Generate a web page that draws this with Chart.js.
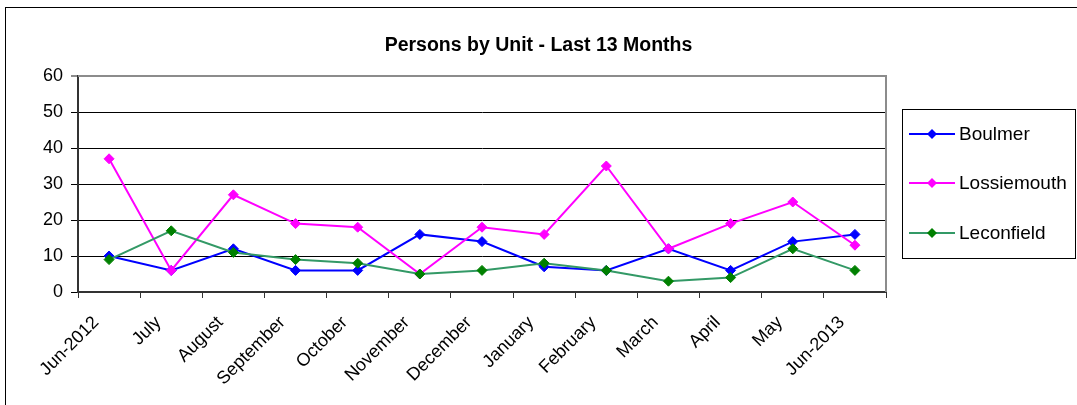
<!DOCTYPE html>
<html>
<head>
<meta charset="utf-8">
<title>Persons by Unit - Last 13 Months</title>
<script src="https://cdn.jsdelivr.net/npm/chart.js@4/dist/chart.umd.min.js"></script>
<style>
  html, body { margin: 0; padding: 0; background: #fff; }
  canvas { display: block; }
</style>
</head>
<body>
<canvas id="grafica" width="1077" height="405"></canvas>
<script>
// datos
const meses = ['Jun-2012', 'July', 'August', 'September', 'October', 'November',
  'December', 'January', 'February', 'March', 'April', 'May', 'Jun-2013'];
const boulmer = [10, 6, 12, 6, 6, 16, 14, 7, 6, 12, 6, 14, 16];
const lossiemouth = [37, 6, 27, 19, 18, 5, 18, 16, 35, 12, 19, 25, 13];
const leconfield = [9, 17, 11, 9, 8, 5, 6, 8, 6, 3, 4, 12, 6];
const ticksY = [0, 10, 20, 30, 40, 50, 60];

const fuente = '"Liberation Sans", Arial, sans-serif';

// marco exterior, borde gris del area y leyenda con recuadro
const marcoYLeyenda = {
  id: 'marcoYLeyenda',
  afterDraw(chart) {
    const ctx = chart.ctx;
    const a = chart.chartArea;
    ctx.save();
    ctx.strokeStyle = '#000';
    ctx.lineWidth = 1;
    ctx.strokeRect(5.5, 7.5, 1200, 600);

    ctx.strokeStyle = '#8c8c8c';
    ctx.lineWidth = 2;
    ctx.beginPath();
    ctx.moveTo(a.left, a.top);
    ctx.lineTo(a.right, a.top);
    ctx.lineTo(a.right, a.bottom);
    ctx.stroke();

    // leyenda
    ctx.strokeStyle = '#000';
    ctx.lineWidth = 1;
    ctx.strokeRect(902.5, 109.5, 173, 149);
    const filas = [134, 183, 233];
    chart.data.datasets.forEach((ds, i) => {
      const y = filas[i];
      ctx.strokeStyle = ds.borderColor;
      ctx.lineWidth = 2;
      ctx.beginPath();
      ctx.moveTo(909, y);
      ctx.lineTo(955, y);
      ctx.stroke();
      ctx.fillStyle = ds.pointBackgroundColor;
      ctx.beginPath();
      ctx.moveTo(932, y - 5);
      ctx.lineTo(937, y);
      ctx.lineTo(932, y + 5);
      ctx.lineTo(927, y);
      ctx.closePath();
      ctx.fill();
      ctx.fillStyle = '#000';
      ctx.font = '19px ' + fuente;
      ctx.textBaseline = 'middle';
      ctx.textAlign = 'left';
      ctx.fillText(ds.label, 959, y + 1);
    });
    ctx.restore();
  }
};

function serie(label, datos, linea, punto, orden) {
  return {
    label: label,
    data: datos,
    borderColor: linea,
    backgroundColor: punto,
    borderWidth: 2,
    pointStyle: 'rectRot',
    pointRadius: 5,
    pointBorderWidth: 1,
    pointBackgroundColor: punto,
    pointBorderColor: punto,
    tension: 0,
    order: orden
  };
}

new Chart(document.getElementById('grafica'), {
  type: 'line',
  data: {
    labels: meses,
    datasets: [
      serie('Boulmer', boulmer, '#0000ff', '#0000ff', 2),
      serie('Lossiemouth', lossiemouth, '#ff00ff', '#ff00ff', 1),
      serie('Leconfield', leconfield, '#339966', '#008000', 0)
    ]
  },
  options: {
    responsive: false,
    animation: false,
    layout: { padding: 0 },
    plugins: {
      legend: { display: false },
      tooltip: { enabled: false },
      title: {
        display: true,
        text: 'Persons by Unit - Last 13 Months',
        color: '#000',
        font: { family: fuente, size: 19.5, weight: 'bold' },
        padding: { top: 34, bottom: 18.6 }
      }
    },
    scales: {
      x: {
        offset: true,
        grid: {
          offset: true,
          drawOnChartArea: false,
          drawTicks: true,
          tickLength: 6,
          color: '#333',
          lineWidth: 1
        },
        border: { color: '#333', width: 2 },
        ticks: {
          color: '#000',
          font: { family: fuente, size: 18 },
          minRotation: 45,
          maxRotation: 45,
          autoSkip: false,
          labelOffset: -13,
          padding: 14
        },
        afterFit(scale) { scale.height = 113; }
      },
      y: {
        min: 0,
        max: 60,
        afterBuildTicks(scale) { scale.ticks = ticksY.map(v => ({ value: v })); },
        grid: {
          color: ctx => (ctx.tick && ctx.tick.value === 60 ? '#8c8c8c' : '#000'),
          lineWidth: ctx => (ctx.tick && ctx.tick.value === 60 ? 2 : 1),
          tickLength: 7
        },
        border: { color: '#333', width: 2 },
        ticks: {
          color: '#000',
          font: { family: fuente, size: 18 },
          padding: 8
        },
        afterFit(scale) { scale.width = 78; }
      },
      // espacio vacio a la derecha para la leyenda
      espacio: {
        type: 'linear',
        position: 'right',
        display: true,
        grid: { display: false, drawTicks: false },
        border: { display: false },
        ticks: { display: false },
        afterFit(scale) { scale.width = 191; }
      }
    }
  },
  plugins: [marcoYLeyenda]
});
</script>
</body>
</html>
